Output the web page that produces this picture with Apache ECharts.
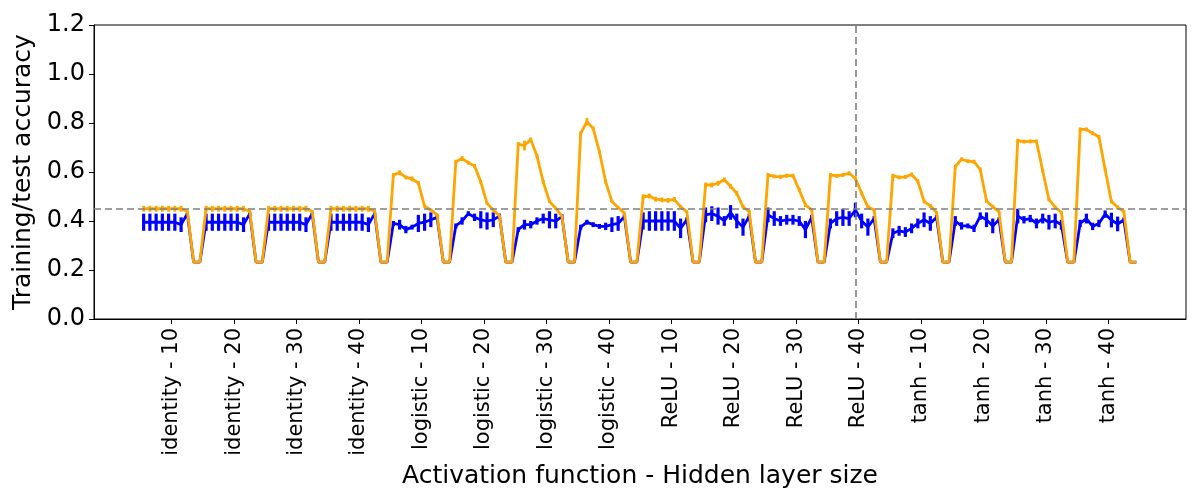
<!DOCTYPE html>
<html>
<head>
<meta charset="utf-8">
<script src="https://cdn.jsdelivr.net/npm/echarts/dist/echarts.min.js"></script>
<style>
html,body{margin:0;padding:0;background:#fff;}
#chart{width:1200px;height:500px;}
</style>
</head>
<body>
<div id="chart"></div>
<script>
// Tick labels (one per group of 10 points)
const groupLabels = [
  'identity - 10','identity - 20','identity - 30','identity - 40',
  'logistic - 10','logistic - 20','logistic - 30','logistic - 40',
  'ReLU - 10','ReLU - 20','ReLU - 30','ReLU - 40',
  'tanh - 10','tanh - 20','tanh - 30','tanh - 40'
];
const LOW = 0.232;

// Training accuracy (orange), 10 points per group
const trainAcc = [
  0.45,0.45,0.45,0.45,0.45,0.45,0.45,0.44,LOW,LOW,
  0.45,0.45,0.45,0.45,0.45,0.45,0.45,0.44,LOW,LOW,
  0.45,0.45,0.45,0.45,0.45,0.45,0.45,0.44,LOW,LOW,
  0.45,0.45,0.45,0.45,0.45,0.45,0.45,0.44,LOW,LOW,
  0.588,0.597,0.578,0.572,0.555,0.46,0.445,0.425,LOW,LOW,
  0.642,0.655,0.638,0.625,0.56,0.472,0.445,0.42,LOW,LOW,
  0.714,0.708,0.733,0.665,0.56,0.48,0.452,0.42,LOW,LOW,
  0.758,0.805,0.778,0.683,0.56,0.48,0.455,0.432,LOW,LOW,
  0.499,0.502,0.489,0.486,0.484,0.488,0.458,0.438,LOW,LOW,
  0.547,0.547,0.554,0.568,0.542,0.513,0.458,0.438,LOW,LOW,
  0.588,0.582,0.58,0.585,0.585,0.527,0.465,0.445,LOW,LOW,
  0.588,0.584,0.588,0.595,0.574,0.513,0.458,0.445,LOW,LOW,
  0.585,0.578,0.58,0.59,0.562,0.48,0.462,0.435,LOW,LOW,
  0.622,0.652,0.644,0.642,0.61,0.482,0.458,0.438,LOW,LOW,
  0.728,0.724,0.725,0.725,0.605,0.488,0.456,0.435,LOW,LOW,
  0.774,0.774,0.758,0.744,0.61,0.48,0.456,0.438,LOW,LOW
];
const trainErr = [
  0.012,0.012,0.012,0.012,0.012,0.012,0.012,0.004,0,0,
  0.012,0.012,0.012,0.012,0.012,0.012,0.012,0.004,0,0,
  0.012,0.012,0.012,0.012,0.012,0.012,0.012,0.004,0,0,
  0.012,0.012,0.012,0.012,0.012,0.012,0.012,0.004,0,0,
  0.008,0.01,0.008,0.01,0.008,0.006,0.006,0.006,0,0,
  0.008,0.01,0.008,0.008,0.008,0.006,0.006,0.006,0,0,
  0.008,0.02,0.008,0.008,0.008,0.006,0.006,0.006,0,0,
  0.008,0.015,0.008,0.008,0.008,0.006,0.006,0.006,0,0,
  0.01,0.01,0.01,0.01,0.01,0.01,0.008,0.006,0,0,
  0.01,0.01,0.01,0.01,0.01,0.01,0.008,0.006,0,0,
  0.008,0.008,0.008,0.008,0.008,0.008,0.008,0.006,0,0,
  0.008,0.008,0.008,0.008,0.008,0.008,0.008,0.006,0,0,
  0.008,0.008,0.008,0.008,0.008,0.008,0.008,0.006,0,0,
  0.008,0.008,0.008,0.008,0.008,0.008,0.008,0.006,0,0,
  0.008,0.008,0.008,0.008,0.008,0.008,0.008,0.006,0,0,
  0.008,0.008,0.008,0.008,0.008,0.008,0.008,0.006,0,0
];

// Test accuracy (blue)
const testAcc = [
  0.395,0.395,0.395,0.395,0.395,0.395,0.385,0.43,LOW,LOW,
  0.395,0.395,0.395,0.395,0.395,0.395,0.385,0.43,LOW,LOW,
  0.395,0.395,0.395,0.395,0.395,0.395,0.385,0.43,LOW,LOW,
  0.395,0.395,0.395,0.395,0.395,0.395,0.385,0.43,LOW,LOW,
  0.39,0.385,0.365,0.375,0.39,0.395,0.405,0.415,LOW,LOW,
  0.38,0.40,0.43,0.415,0.405,0.40,0.405,0.42,LOW,LOW,
  0.365,0.385,0.385,0.40,0.41,0.405,0.40,0.418,LOW,LOW,
  0.375,0.395,0.385,0.378,0.378,0.385,0.39,0.418,LOW,LOW,
  0.40,0.40,0.40,0.40,0.40,0.40,0.37,0.405,LOW,LOW,
  0.425,0.43,0.42,0.40,0.435,0.40,0.375,0.42,LOW,LOW,
  0.425,0.41,0.40,0.405,0.405,0.40,0.365,0.415,LOW,LOW,
  0.39,0.41,0.415,0.41,0.445,0.40,0.375,0.41,LOW,LOW,
  0.35,0.36,0.355,0.37,0.39,0.405,0.39,0.415,LOW,LOW,
  0.40,0.38,0.38,0.37,0.42,0.405,0.38,0.405,LOW,LOW,
  0.42,0.405,0.41,0.39,0.41,0.395,0.40,0.385,LOW,LOW,
  0.39,0.41,0.378,0.39,0.428,0.404,0.388,0.404,LOW,LOW
];
const testErr = [
  0.035,0.035,0.035,0.035,0.035,0.035,0.03,0.005,0,0,
  0.035,0.035,0.035,0.035,0.035,0.035,0.03,0.005,0,0,
  0.035,0.035,0.035,0.035,0.035,0.035,0.03,0.005,0,0,
  0.035,0.035,0.035,0.035,0.035,0.035,0.03,0.005,0,0,
  0.01,0.02,0.015,0.01,0.035,0.035,0.03,0.01,0,0,
  0.01,0.015,0.01,0.015,0.035,0.035,0.03,0.01,0,0,
  0.01,0.02,0.015,0.015,0.02,0.035,0.03,0.01,0,0,
  0.01,0.01,0.01,0.01,0.015,0.03,0.03,0.01,0,0,
  0.035,0.04,0.04,0.04,0.04,0.04,0.04,0.01,0,0,
  0.03,0.03,0.035,0.02,0.03,0.03,0.035,0.01,0,0,
  0.03,0.03,0.02,0.02,0.02,0.02,0.035,0.01,0,0,
  0.02,0.03,0.035,0.03,0.03,0.03,0.035,0.01,0,0,
  0.02,0.02,0.02,0.02,0.02,0.03,0.03,0.01,0,0,
  0.02,0.015,0.01,0.015,0.015,0.03,0.03,0.01,0,0,
  0.03,0.015,0.015,0.02,0.02,0.03,0.03,0.02,0,0,
  0.015,0.02,0.015,0.015,0.015,0.03,0.03,0.01,0,0
];

const bestIndex = 114;       // vertical dashed marker
const bestTest = 0.445;      // horizontal dashed marker

const FONT = 'DejaVu Sans';
const BLUE = '#0000ff', ORANGE = '#ffa500', GREY = '#808080';
const n = trainAcc.length;
const tickPos = groupLabels.map((_, k) => 4.5 + 10 * k);

const lineData = arr => arr.map((v, i) => [i, v]);
const errData = (m, e) => m.map((v, i) => [i, v - e[i], v + e[i]]);
function errRender(color, w) {
  return function (params, api) {
    const x = api.value(0), lo = api.value(1), hi = api.value(2);
    if (hi - lo <= 1e-9) return null;
    const a = api.coord([x, lo]), b = api.coord([x, hi]);
    return { type: 'line', shape: { x1: a[0], y1: a[1], x2: b[0], y2: b[1] },
             style: { stroke: color, lineWidth: w } };
  };
}

const chart = echarts.init(document.getElementById('chart'), null, { renderer: 'canvas' });
chart.setOption({
  animation: false,
  backgroundColor: '#fff',
  textStyle: { fontFamily: FONT },
  grid: { left: 94, right: 14, top: 25, bottom: 181, show: true, borderColor: '#000', borderWidth: 1, backgroundColor: 'transparent' },
  xAxis: {
    type: 'value', min: -(n - 1) * 0.05, max: (n - 1) * 1.05,
    name: 'Activation function - Hidden layer size', nameLocation: 'middle', nameGap: 140,
    nameTextStyle: { fontSize: 25, color: '#000', fontFamily: FONT },
    axisLine: { show: true, onZero: false, lineStyle: { color: '#000', width: 1 } },
    axisTick: { show: true, customValues: tickPos, length: 5, lineStyle: { color: '#000', width: 1 } },
    axisLabel: { show: true, customValues: tickPos, rotate: 90, fontSize: 21, color: '#000', fontFamily: FONT, margin: 9,
      formatter: v => groupLabels[Math.round((v - 4.5) / 10)] || '' },
    splitLine: { show: false }
  },
  yAxis: {
    type: 'value', min: 0, max: 1.2, interval: 0.2,
    name: 'Training/test accuracy', nameLocation: 'middle', nameGap: 52,
    nameTextStyle: { fontSize: 25, color: '#000', fontFamily: FONT },
    axisLine: { show: true, onZero: false, lineStyle: { color: '#000', width: 1 } },
    axisTick: { show: true, length: 5, lineStyle: { color: '#000', width: 1 } },
    axisLabel: { fontSize: 24, color: '#000', fontFamily: FONT, margin: 9, formatter: v => v.toFixed(1) },
    splitLine: { show: false }
  },
  series: [
    { type: 'custom', name: 'test err', renderItem: errRender(BLUE, 3.2), data: errData(testAcc, testErr), encode: { x: 0, y: [1, 2] }, z: 2 },
    { type: 'line', name: 'test', data: lineData(testAcc), showSymbol: false, symbol: 'none', lineStyle: { color: BLUE, width: 2.8 }, itemStyle: { color: BLUE }, z: 3 },
    { type: 'custom', name: 'train err', renderItem: errRender(ORANGE, 2.8), data: errData(trainAcc, trainErr), encode: { x: 0, y: [1, 2] }, z: 4 },
    { type: 'line', name: 'train', data: lineData(trainAcc), showSymbol: false, symbol: 'none', lineStyle: { color: ORANGE, width: 2.8 }, itemStyle: { color: ORANGE }, z: 5,
      markLine: { silent: true, symbol: 'none', label: { show: false }, z: 10,
        lineStyle: { color: GREY, type: [7, 4], width: 1.6 },
        data: [ { yAxis: bestTest }, { xAxis: bestIndex } ] } }
  ]
});
</script>
</body>
</html>
